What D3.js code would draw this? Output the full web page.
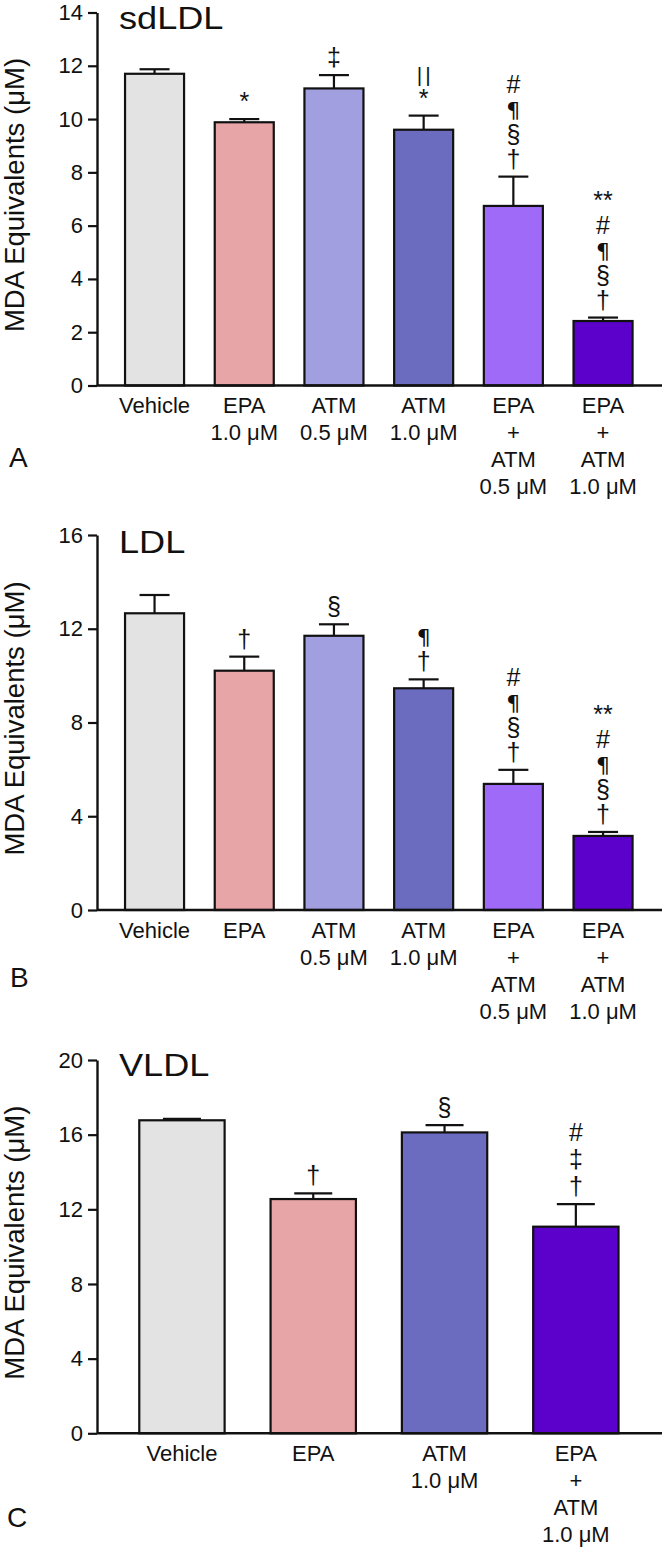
<!DOCTYPE html>
<html>
<head>
<meta charset="utf-8">
<script src="https://cdn.jsdelivr.net/npm/d3@7"></script>
<style>
  html, body { margin: 0; padding: 0; background: #fff; }
  svg { display: block; }
  text { font-family: "Liberation Sans", Arial, Helvetica, sans-serif; fill: #111; }
</style>
</head>
<body>
<svg id="chart" width="664" height="1549"></svg>
<script>
// ---------- Data ----------
const catsA = [["Vehicle"], ["EPA", "1.0 μM"], ["ATM", "0.5 μM"], ["ATM", "1.0 μM"], ["EPA", "+", "ATM", "0.5 μM"], ["EPA", "+", "ATM", "1.0 μM"]];
const valuesA = [11.70, 9.88, 11.15, 9.60, 6.74, 2.42];
const errorsA = [0.17, 0.12, 0.50, 0.53, 1.10, 0.13];
const marksA = [[], ["*"], ["‡"], ["||", "*"], ["#", "¶", "§", "†"], ["**", "#", "¶", "§", "†"]];
const ticksA = [0, 2, 4, 6, 8, 10, 12, 14];

const catsB = [["Vehicle"], ["EPA"], ["ATM", "0.5 μM"], ["ATM", "1.0 μM"], ["EPA", "+", "ATM", "0.5 μM"], ["EPA", "+", "ATM", "1.0 μM"]];
const valuesB = [12.66, 10.21, 11.70, 9.46, 5.38, 3.16];
const errorsB = [0.78, 0.60, 0.49, 0.38, 0.60, 0.17];
const marksB = [[], ["†"], ["§"], ["¶", "†"], ["#", "¶", "§", "†"], ["**", "#", "¶", "§", "†"]];
const ticksB = [0, 4, 8, 12, 16];

const catsC = [["Vehicle"], ["EPA"], ["ATM", "1.0 μM"], ["EPA", "+", "ATM", "1.0 μM"]];
const valuesC = [16.77, 12.55, 16.12, 11.07];
const errorsC = [0.08, 0.30, 0.39, 1.21];
const marksC = [[], ["†"], ["§"], ["#", "‡", "†"]];
const ticksC = [0, 4, 8, 12, 16, 20];

const colors6 = ["#e3e3e3", "#e8a5a7", "#a19fdf", "#6b6bbf", "#9f6af8", "#5c00cc"];
const colors4 = ["#e3e3e3", "#e8a5a7", "#6b6bbf", "#5c00cc"];

const titles = ["sdLDL", "LDL", "VLDL"];
const panelLetters = ["A", "B", "C"];
const yLabel = "MDA Equivalents (μM)";

// ---------- Drawing ----------
const svg = d3.select("#chart");
const axisX = 97, axisRight = 662;

function drawPanel(cfg) {
  const g = svg.append("g");
  const keys = cfg.cats.map(c => c.join(" "));
  const y = d3.scaleLinear().domain([0, cfg.ymax]).range([cfg.y0, cfg.yTop]);
  const x = d3.scaleBand().domain(keys).range(cfg.xRange)
    .paddingInner(cfg.pad).paddingOuter(cfg.pad / 2);
  const bw = x.bandwidth();

  // bars
  g.selectAll("rect.bar").data(cfg.values).join("rect")
    .attr("class", "bar")
    .attr("x", (d, i) => x(keys[i]))
    .attr("y", d => y(d))
    .attr("width", bw)
    .attr("height", d => y(0) - y(d))
    .attr("fill", (d, i) => cfg.colors[i])
    .attr("stroke", "#111").attr("stroke-width", 2.2);

  // error bars (upper)
  cfg.values.forEach((v, i) => {
    const cx = x(keys[i]) + bw / 2;
    const top = y(v + cfg.errors[i]);
    g.append("line").attr("x1", cx).attr("x2", cx)
      .attr("y1", y(v)).attr("y2", top)
      .attr("stroke", "#111").attr("stroke-width", 2.2);
    g.append("line").attr("x1", cx - cfg.capW / 2).attr("x2", cx + cfg.capW / 2)
      .attr("y1", top).attr("y2", top)
      .attr("stroke", "#111").attr("stroke-width", 2.2);
    // significance marks
    const m = cfg.marks[i];
    m.forEach((s, j) => {
      const k = m.length - 1 - j;
      const t = g.append("text")
        .attr("x", cx).attr("y", top - 9 - k * cfg.markStep)
        .attr("text-anchor", "middle")
        .attr("fill", "#111")
        .style("fill", "#111")
        .style("font-family", s === "¶" ? '"DejaVu Sans", sans-serif' : '"Liberation Sans", Arial, sans-serif')
        .style("font-size", s === "||" ? "21px" : (s === "¶" ? "22px" : "25px"))
        .text(s);
      if (s === "||") t.style("letter-spacing", "3px").attr("dx", 1.5);
    });
  });

  // x axis line
  g.append("line").attr("x1", axisX).attr("x2", axisRight)
    .attr("y1", cfg.y0).attr("y2", cfg.y0)
    .attr("stroke", "#111").attr("stroke-width", 2.4);

  // y axis
  const ya = g.append("g").attr("transform", `translate(${axisX},0)`)
    .call(d3.axisLeft(y).tickValues(cfg.ticks).tickSize(9).tickPadding(5).tickSizeOuter(0));
  ya.select(".domain").attr("stroke", "#111").attr("stroke-width", 2.4);
  ya.selectAll(".tick line").attr("stroke", "#111").attr("stroke-width", 2.2);
  ya.selectAll(".tick text").style("font-size", "22px")
    .style("font-family", '"Liberation Sans", Arial, sans-serif').attr("fill", "#111");

  // category labels
  cfg.cats.forEach((lines, i) => {
    const cx = x(keys[i]) + bw / 2;
    lines.forEach((t, j) => {
      g.append("text").attr("x", cx).attr("y", cfg.y0 + 27.5 + j * 27)
        .attr("text-anchor", "middle").style("font-size", "22px").text(t);
    });
  });

  // title
  g.append("text")
    .attr("transform", `translate(119,${cfg.titleY}) scale(1.13,1)`)
    .style("font-size", "32px").text(cfg.title);

  // y label
  g.append("text")
    .attr("transform", `translate(24,${(cfg.y0 + cfg.yTop) / 2 - 4}) rotate(-90)`)
    .attr("text-anchor", "middle").style("font-size", "27.5px").text(yLabel);

  // panel letter
  g.append("text").attr("x", cfg.letterX).attr("y", cfg.letterY)
    .style("font-size", "28px").text(cfg.letter);
}

drawPanel({
  cats: catsA, values: valuesA, errors: errorsA, marks: marksA, ticks: ticksA,
  ymax: 14, y0: 385.5, yTop: 12.5, xRange: [109.7, 647.9], pad: 0.342,
  colors: colors6, capW: 30, markStep: 25, title: titles[0], titleY: 29,
  letter: panelLetters[0], letterX: 9, letterY: 467
});
drawPanel({
  cats: catsB, values: valuesB, errors: errorsB, marks: marksB, ticks: ticksB,
  ymax: 16, y0: 910, yTop: 535, xRange: [109.7, 647.9], pad: 0.342,
  colors: colors6, capW: 30, markStep: 25, title: titles[1], titleY: 553,
  letter: panelLetters[1], letterX: 10, letterY: 987
});
drawPanel({
  cats: catsC, values: valuesC, errors: errorsC, marks: marksC, ticks: ticksC,
  ymax: 20, y0: 1433.3, yTop: 1060, xRange: [116.3, 641.5], pad: 0.35,
  colors: colors4, capW: 38, markStep: 27, title: titles[2], titleY: 1076,
  letter: panelLetters[2], letterX: 7, letterY: 1527
});
</script>
</body>
</html>
